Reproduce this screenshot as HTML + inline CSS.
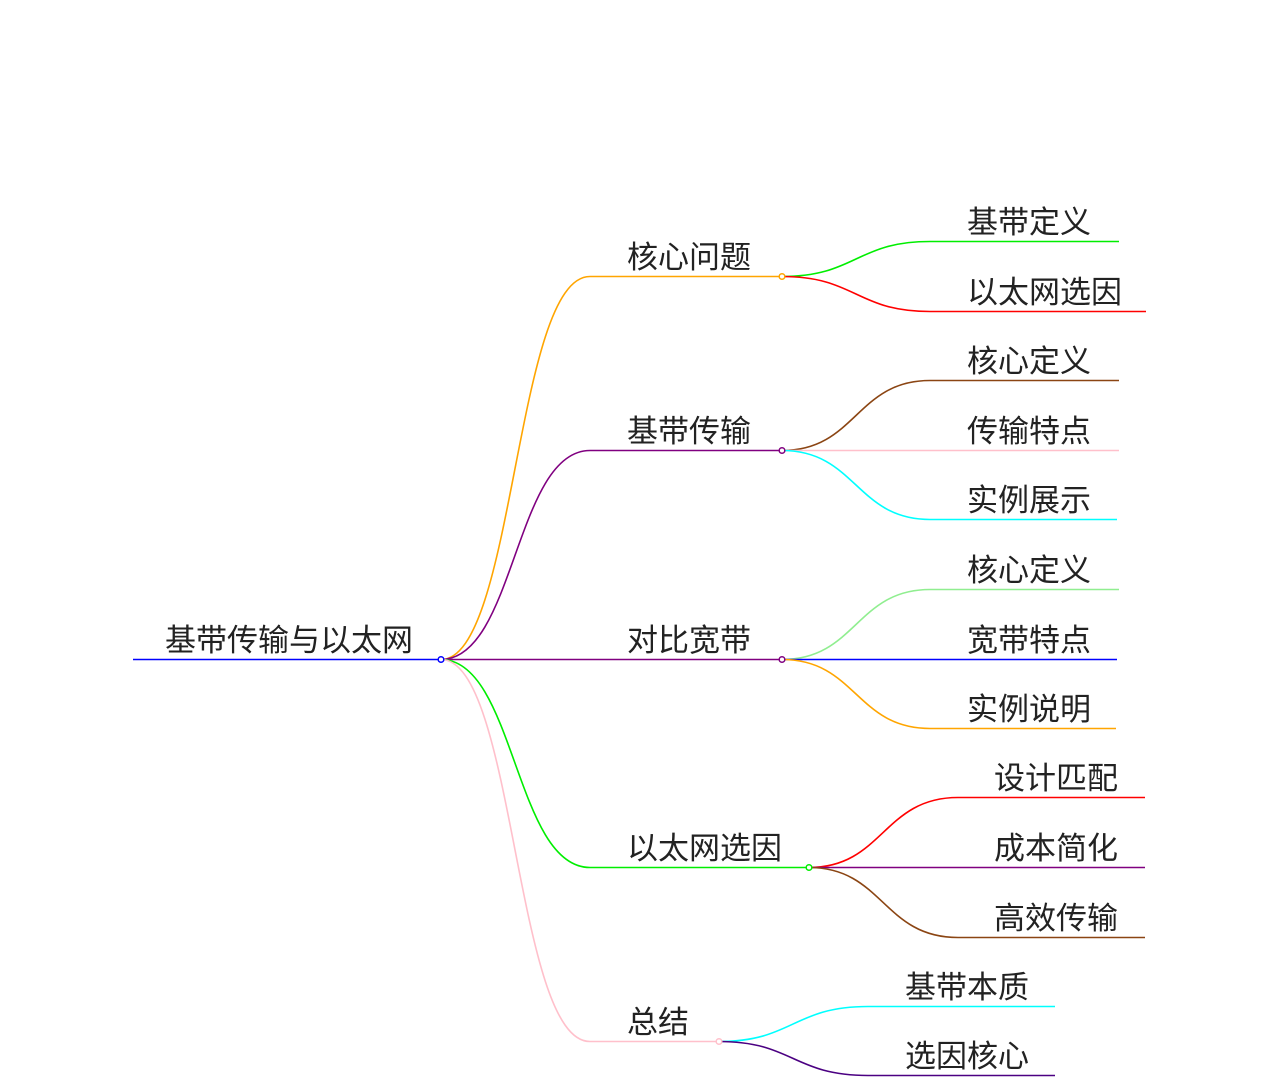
<!DOCTYPE html>
<html><head><meta charset="utf-8"><style>
html,body{margin:0;padding:0;background:#fff;}
svg{display:block;}
text{font-family:"Liberation Sans","Noto Sans CJK SC",sans-serif;font-size:31px;fill:#222;}
</style></head><body>
<svg width="1280" height="1088" viewBox="0 0 1280 1088" xmlns="http://www.w3.org/2000/svg" fill="none">
<g transform="translate(0,0.5)">
<g stroke-width="1.6" fill="none">
<line x1="133" y1="659" x2="441" y2="659" stroke="#0000ff"/>
<path d="M441 659 C515 659,515 276,590 276 L782 276" stroke="#ffa500"/>
<path d="M441 659 C515 659,515 450,590 450 L782 450" stroke="#800080"/>
<path d="M441 659 L782 659" stroke="#800080"/>
<path d="M441 659 C515 659,515 867,590 867 L809 867" stroke="#00ee00"/>
<path d="M441 659 C515 659,515 1041,590 1041 L719 1041" stroke="#ffc0cb"/>
<path d="M782 276 C856 276,856 241,930 241 L1119 241" stroke="#00ee00"/>
<path d="M782 276 C856 276,856 311,930 311 L1146 311" stroke="#ff0000"/>
<path d="M782 450 C856 450,856 380,930 380 L1119 380" stroke="#8b4513"/>
<path d="M782 450 L1119 450" stroke="#ffc0cb"/>
<path d="M782 450 C856 450,856 519,930 519 L1117 519" stroke="#00ffff"/>
<path d="M782 659 C856 659,856 589,930 589 L1119 589" stroke="#90ee90"/>
<path d="M782 659 L1117 659" stroke="#0000ff"/>
<path d="M782 659 C856 659,856 728,930 728 L1116 728" stroke="#ffa500"/>
<path d="M809 867 C883 867,883 797,958 797 L1145 797" stroke="#ff0000"/>
<path d="M809 867 L1145 867" stroke="#800080"/>
<path d="M809 867 C883 867,883 937,958 937 L1145 937" stroke="#8b4513"/>
<path d="M719 1041 C793 1041,793 1006,868 1006 L1055 1006" stroke="#00ffff"/>
<path d="M719 1041 C793 1041,793 1075,868 1075 L1055 1075" stroke="#4b0082"/>
</g>
<g fill="#fff" stroke-width="1.5">
<circle cx="441" cy="659" r="2.8" stroke="#0000ff"/>
<circle cx="782" cy="276" r="2.8" stroke="#ffa500"/>
<circle cx="782" cy="450" r="2.8" stroke="#800080"/>
<circle cx="782" cy="659" r="2.8" stroke="#800080"/>
<circle cx="809" cy="867" r="2.8" stroke="#00ee00"/>
<circle cx="719" cy="1041" r="2.8" stroke="#ffc0cb"/>
</g>
</g>
<text x="165" y="651">基带传输与以太网</text>
<text x="627" y="268">核心问题</text>
<text x="627" y="442">基带传输</text>
<text x="627" y="651">对比宽带</text>
<text x="627" y="859">以太网选因</text>
<text x="627" y="1033">总结</text>
<text x="967" y="233">基带定义</text>
<text x="967" y="303">以太网选因</text>
<text x="967" y="372">核心定义</text>
<text x="967" y="442">传输特点</text>
<text x="967" y="511">实例展示</text>
<text x="967" y="581">核心定义</text>
<text x="967" y="651">宽带特点</text>
<text x="967" y="720">实例说明</text>
<text x="994" y="789">设计匹配</text>
<text x="994" y="859">成本简化</text>
<text x="994" y="929">高效传输</text>
<text x="905" y="998">基带本质</text>
<text x="905" y="1067">选因核心</text>
</svg>
</body></html>
